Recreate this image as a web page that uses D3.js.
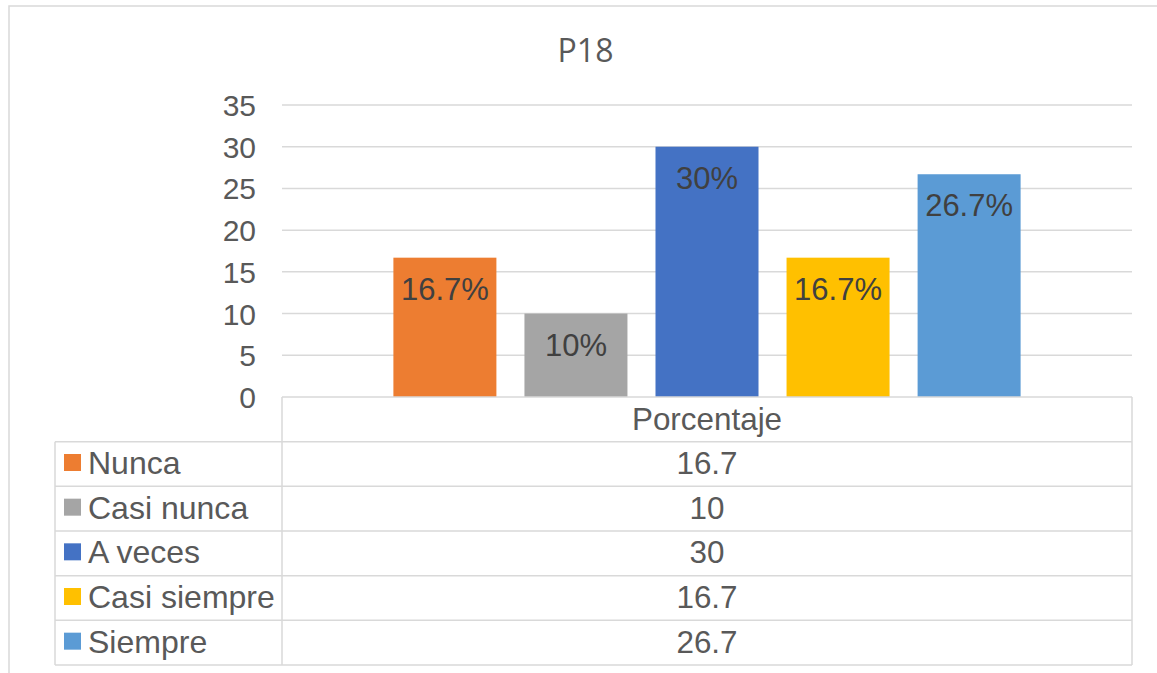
<!DOCTYPE html>
<html>
<head>
<meta charset="utf-8">
<script src="https://cdn.jsdelivr.net/npm/d3@7"></script>
<style>
  html, body { margin: 0; padding: 0; background: #fff; }
  svg { display: block; }
  text { font-family: "Liberation Sans", Arial, sans-serif; }
</style>
</head>
<body>
<svg id="chart" width="1157" height="673"></svg>
<script>
// ---- data ----
const title = "P18";
const seriesNames = ["Nunca", "Casi nunca", "A veces", "Casi siempre", "Siempre"];
const seriesValues = [16.7, 10, 30, 16.7, 26.7];
const dataLabels = ["16.7%", "10%", "30%", "16.7%", "26.7%"];
const seriesColors = ["#ED7D31", "#A5A5A5", "#4472C4", "#FFC000", "#5B9BD5"];
const categoryName = "Porcentaje";
const yTicks = [0, 5, 10, 15, 20, 25, 30, 35];

// ---- layout ----
const svg = d3.select("#chart");
const plotLeft = 282, plotRight = 1132, plotTop = 105, plotBottom = 397;
const tableLeft = 55, tableBottom = 665;
const gridColor = "#d9d9d9";
const textColor = "#595959";

// outer border
svg.append("rect")
  .attr("x", 9).attr("y", 6).attr("width", 1170).attr("height", 700)
  .attr("fill", "#fff").attr("stroke", gridColor).attr("stroke-width", 1.5);

// title
svg.append("text")
  .attr("x", 585.5).attr("y", 62)
  .attr("text-anchor", "middle")
  .style("font-family", "'Open Sans', 'Liberation Sans', sans-serif")
  .style("font-size", "32px")
  .attr("fill", textColor)
  .text(title);

// scales
const y = d3.scaleLinear().domain([0, 35]).range([plotBottom, plotTop]);
const x = d3.scaleBand().domain(seriesNames).range([plotLeft, plotRight])
  .paddingInner(0.214).paddingOuter(0.85);

// gridlines
svg.append("g").selectAll("line").data(yTicks.filter(d => d > 0)).join("line")
  .attr("x1", plotLeft).attr("x2", plotRight)
  .attr("y1", d => y(d)).attr("y2", d => y(d))
  .attr("stroke", gridColor).attr("stroke-width", 1.5);

// y axis labels via d3 axis
const yAxis = svg.append("g")
  .attr("transform", `translate(${plotLeft},0)`)
  .call(d3.axisLeft(y).tickValues(yTicks).tickSize(0).tickPadding(26));
yAxis.select(".domain").remove();
yAxis.selectAll("text")
  .style("font-size", "30px")
  .style("font-family", "'Liberation Sans', Arial, sans-serif")
  .attr("fill", textColor)
  .attr("dy", "0.35em");

// bars
const data = seriesNames.map((n, i) => ({ name: n, value: seriesValues[i], label: dataLabels[i], color: seriesColors[i] }));
svg.append("g").selectAll("rect").data(data).join("rect")
  .attr("x", d => x(d.name))
  .attr("y", d => y(d.value))
  .attr("width", x.bandwidth())
  .attr("height", d => y(0) - y(d.value))
  .attr("fill", d => d.color);

// data labels
svg.append("g").selectAll("text").data(data).join("text")
  .attr("x", d => x(d.name) + x.bandwidth() / 2)
  .attr("y", d => y(d.value) + 42)
  .attr("text-anchor", "middle")
  .style("font-size", "31px")
  .attr("fill", "#404040")
  .text(d => d.label);

// ---- data table ----
const rows = d3.scaleBand().domain(["__header", ...seriesNames]).range([plotBottom, tableBottom]);
const tg = svg.append("g");

// horizontal lines
const hLines = [plotBottom, ...seriesNames.map(n => rows(n)), tableBottom];
tg.selectAll("line.h").data(hLines).join("line").attr("class", "h")
  .attr("x1", (d, i) => i === 0 ? plotLeft : tableLeft)
  .attr("x2", plotRight)
  .attr("y1", d => d).attr("y2", d => d)
  .attr("stroke", gridColor).attr("stroke-width", 1.5);
// vertical lines
tg.append("line").attr("x1", tableLeft).attr("x2", tableLeft)
  .attr("y1", rows(seriesNames[0])).attr("y2", tableBottom)
  .attr("stroke", gridColor).attr("stroke-width", 1.5);
tg.append("line").attr("x1", plotLeft).attr("x2", plotLeft)
  .attr("y1", plotBottom).attr("y2", tableBottom)
  .attr("stroke", gridColor).attr("stroke-width", 1.5);
tg.append("line").attr("x1", plotRight).attr("x2", plotRight)
  .attr("y1", plotBottom).attr("y2", tableBottom)
  .attr("stroke", gridColor).attr("stroke-width", 1.5);

// header text
tg.append("text")
  .attr("transform", `translate(${(plotLeft + plotRight) / 2},${rows("__header") + rows.bandwidth() / 2 + 10.5}) scale(1.03,1)`)
  .attr("text-anchor", "middle")
  .style("font-size", "30.5px")
  .attr("fill", textColor)
  .text(categoryName);

// rows
const rg = tg.selectAll("g.row").data(data).join("g").attr("class", "row")
  .attr("transform", d => `translate(0,${rows(d.name) + rows.bandwidth() / 2})`);
rg.append("rect")
  .attr("x", 64).attr("y", -10).attr("width", 17).attr("height", 17)
  .attr("fill", d => d.color);
rg.append("text")
  .attr("transform", "translate(88,10) scale(1.05,1)")
  .style("font-size", "30.5px")
  .attr("fill", textColor)
  .text(d => d.name);
rg.append("text")
  .attr("transform", `translate(${(plotLeft + plotRight) / 2},10) scale(1.03,1)`)
  .attr("text-anchor", "middle")
  .style("font-size", "30.5px")
  .attr("fill", textColor)
  .text(d => String(d.value));
</script>
</body>
</html>
